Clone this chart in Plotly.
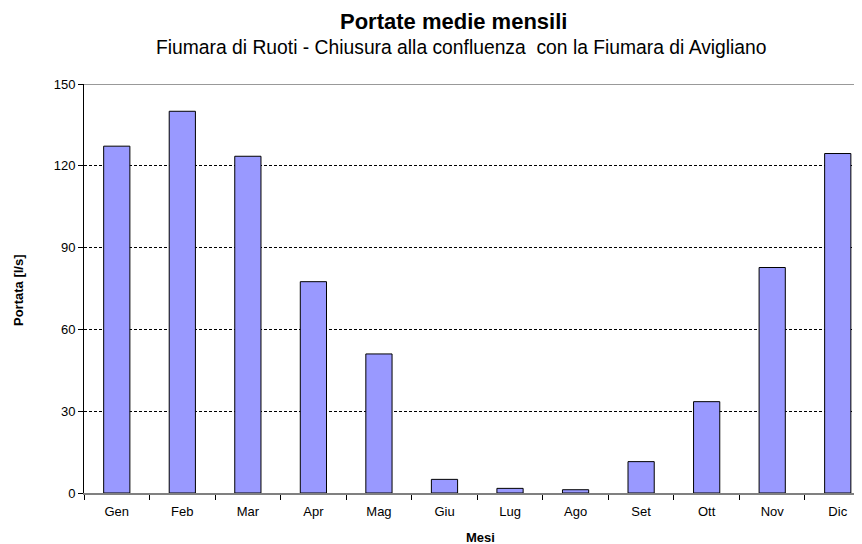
import plotly.graph_objects as go

months = ["Gen", "Feb", "Mar", "Apr", "Mag", "Giu", "Lug", "Ago", "Set", "Ott", "Nov", "Dic"]
portata = [127.2, 140.0, 123.5, 77.5, 51.0, 5.0, 1.7, 1.2, 11.5, 33.5, 82.7, 124.5]
yticks = [0, 30, 60, 90, 120, 150]

fig = go.Figure(go.Bar(
    x=months, y=portata,
    marker=dict(color="#9999FF", line=dict(color="black", width=1)),
    width=0.4,
))

font = "Liberation Sans, Arial, sans-serif"
OFF = 8  # page body margin
W, H = 862 - OFF, 544 - OFF
L, R, T, B = 84 - OFF, 0, 84 - OFF, 544 - 493
pw, ph = W - L - R, H - T - B

def px(x):
    return (x - OFF - L) / pw

def py(y):
    return (H - B - (y - OFF)) / ph

fig.update_layout(
    width=W, height=H,
    margin=dict(l=L, r=R, t=T, b=B, autoexpand=False),
    paper_bgcolor="white", plot_bgcolor="white",
    font=dict(family=font, size=13, color="black"),
    showlegend=False,
    annotations=[
        dict(text="<b>Portate medie mensili</b>", x=px(453), y=py(21), xref="paper", yref="paper",
             showarrow=False, font=dict(size=22), xanchor="center", yanchor="middle"),
        dict(text="Fiumara di Ruoti - Chiusura alla confluenza  con la Fiumara di Avigliano",
             x=px(461), y=py(47.5), xref="paper", yref="paper", showarrow=False,
             font=dict(size=19.3), xanchor="center", yanchor="middle"),
        dict(text="<b>Mesi</b>", x=px(480), y=py(537), xref="paper", yref="paper",
             showarrow=False, font=dict(size=13), xanchor="center", yanchor="middle"),
        dict(text="<b>Portata [l/s]</b>", x=px(18), y=py(290), xref="paper", yref="paper",
             showarrow=False, font=dict(size=13), xanchor="center", yanchor="middle",
             textangle=-90),
    ],
)

fig.update_xaxes(
    range=[-0.5, 11.37], automargin=False,
    showline=True, linecolor="#808080", linewidth=1.5,
    ticks="outside", tickson="boundaries", ticklen=5, tickcolor="black",
    ticklabelstandoff=6,
    showgrid=False,
    tickfont=dict(size=13),
)
fig.update_yaxes(
    range=[0, 150], tickvals=yticks, automargin=False,
    showline=True, linecolor="black", linewidth=1,
    ticks="outside", ticklen=5, tickcolor="black",
    showgrid=True, gridcolor="black", gridwidth=0.6, griddash="3px,2px",
    zeroline=False,
    tickfont=dict(size=13),
)
fig.add_shape(type="line", xref="paper", yref="y", x0=0, x1=1, y0=150, y1=150,
              line=dict(color="#999999", width=2))

fig.write_html("out.html")
